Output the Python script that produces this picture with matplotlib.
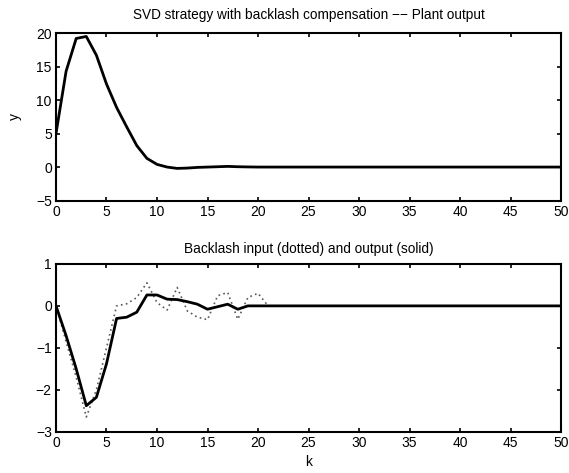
import numpy as np
import matplotlib
matplotlib.use('Agg')
import matplotlib.pyplot as plt

plt.rcParams['font.family'] = ['Liberation Sans', 'DejaVu Sans']
plt.rcParams['font.size'] = 9

# ---- data ----
k = np.arange(0, 51)

y_head = [5.0, 14.3, 19.2, 19.5, 16.7, 12.4, 8.9, 6.0, 3.2, 1.3,
          0.4, 0.0, -0.2, -0.15, -0.05, 0.0, 0.05, 0.1, 0.05, 0.02]
bl_out_head = [0.0, -0.71, -1.5, -2.38, -2.18, -1.38, -0.3, -0.27, -0.15, 0.26,
               0.26, 0.16, 0.15, 0.1, 0.04, -0.08, -0.02, 0.04, -0.08, 0.0]
bl_in_head = [0.0, -0.85, -1.7, -2.65, -2.0, -1.0, 0.0, 0.05, 0.2, 0.55,
              0.08, -0.1, 0.44, -0.12, -0.27, -0.33, 0.24, 0.32, -0.32, 0.2,
              0.3, 0.0]

y = np.zeros(len(k)); y[:len(y_head)] = y_head
bl_out = np.zeros(len(k)); bl_out[:len(bl_out_head)] = bl_out_head
bl_in = np.zeros(len(k)); bl_in[:len(bl_in_head)] = bl_in_head

fig = plt.figure(figsize=(5.69, 4.73), dpi=100)
ax1 = fig.add_axes([0.0984, 0.576, 0.8876, 0.354])
ax2 = fig.add_axes([0.0984, 0.0873, 0.8876, 0.3547])


def style(ax):
    ax.tick_params(direction='in', top=True, right=True, length=3, width=1.2,
                   pad=3, labelsize=10)
    for s in ax.spines.values():
        s.set_linewidth(1.5)
    ax.set_xlim(0, 50)
    ax.set_xticks(range(0, 51, 5))


ax1.plot(k, y, color='black', lw=2)
style(ax1)
ax1.set_ylim(-5, 20)
ax1.set_yticks(range(-5, 21, 5))
ax1.set_yticklabels(['\u22125', '0', '5', '10', '15', '20'])
ax1.set_ylabel('y', labelpad=10, fontsize=10)
ax1.set_title('SVD strategy with backlash compensation \u2212\u2212 Plant output',
              pad=10, fontsize=9.8)

ax2.plot(k, bl_in, color='0.35', lw=1.2, ls=(0, (1, 2)))
ax2.plot(k, bl_out, color='black', lw=2)
style(ax2)
ax2.set_ylim(-3, 1)
ax2.set_yticks([-3, -2, -1, 0, 1])
ax2.set_yticklabels(['\u22123', '\u22122', '\u22121', '0', '1'])
ax2.set_xlabel('k', labelpad=4, fontsize=10)
ax2.set_title('Backlash input (dotted) and output (solid)', pad=8, fontsize=9.8)

fig.savefig('out.png', dpi=100)
